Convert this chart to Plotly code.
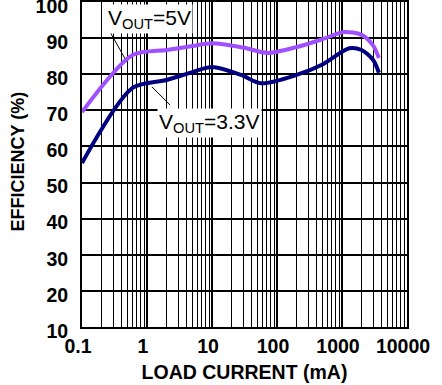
import numpy as np
import plotly.graph_objects as go

# Load current (mA) and efficiency (%) for each output voltage
current_5v = [0.1, 0.6, 2, 5, 10, 30, 72, 200, 500, 1070, 2000, 3000, 3700]
eff_5v = [69.5, 85.3, 86.7, 87.8, 88.6, 87.4, 85.9, 87.5, 89.7, 91.7, 90.9, 88.0, 84.5]

current_3v3 = [0.1, 0.6, 2, 5, 10, 28, 57, 200, 500, 1290, 2000, 3000, 3700]
eff_3v3 = [55.4, 76.2, 78.4, 80.6, 82.0, 79.8, 77.5, 79.8, 82.7, 87.2, 86.7, 84.0, 80.4]

x_ticks = [0.1, 1, 10, 100, 1000, 10000]
x_tick_labels = ["0.1", "1", "10", "100", "1000", "10000"]
y_ticks = [10, 20, 30, 40, 50, 60, 70, 80, 90, 100]

FONT = "Liberation Sans, Arial, sans-serif"

fig = go.Figure()

# leader lines from labels to curves
fig.add_trace(go.Scatter(x=[0.27, 0.49], y=[91.7, 83.4], mode="lines",
                         line=dict(color="black", width=1), hoverinfo="skip"))
fig.add_trace(go.Scatter(x=[1.19, 2.26], y=[76.5, 71.5], mode="lines",
                         line=dict(color="black", width=1), hoverinfo="skip"))

fig.add_trace(go.Scatter(x=current_5v, y=eff_5v, mode="lines",
                         line=dict(color="#a050ff", width=4, shape="spline", smoothing=0.8),
                         name="VOUT=5V"))
fig.add_trace(go.Scatter(x=current_3v3, y=eff_3v3, mode="lines",
                         line=dict(color="#000080", width=4, shape="spline", smoothing=0.8),
                         name="VOUT=3.3V"))

fig.add_annotation(x=np.log10(1.1), y=95.3, xref="x", yref="y",
                   text="V<sub>OUT</sub>=5V", showarrow=False, bgcolor="white",
                   font=dict(family=FONT, size=21, color="black"), borderpad=1)
fig.add_annotation(x=np.log10(9.3), y=66.5, xref="x", yref="y",
                   text="V<sub>OUT</sub>=3.3V", showarrow=False, bgcolor="white",
                   font=dict(family=FONT, size=21, color="black"), borderpad=1)

# vertical axis title
fig.add_annotation(x=-0.197, y=0.509, xref="paper", yref="paper",
                   text="EFFICIENCY (%)", textangle=-90, showarrow=False,
                   xanchor="center", yanchor="middle",
                   font=dict(family=FONT, size=18, weight="bold", color="black"))

fig.update_layout(
    width=442, height=385,
    margin=dict(l=82, r=35, t=2, b=58, autoexpand=False),
    paper_bgcolor="white", plot_bgcolor="white",
    showlegend=False,
    font=dict(family=FONT, color="black"),
)
fig.update_xaxes(
    type="log", range=[-1, 4], automargin=False,
    tickvals=x_ticks, ticktext=x_tick_labels, ticks="",
    tickfont=dict(family=FONT, size=19.5, weight="bold"),
    ticklabelshift=-4, ticklabelstandoff=1, ticklabeloverflow="allow",
    showgrid=True, gridcolor="black", gridwidth=1.5,
    minor=dict(dtick="D1", showgrid=True, gridcolor="black", gridwidth=1.2, ticks=""),
    showline=True, linecolor="black", linewidth=2, mirror=True,
    title=dict(text="LOAD CURRENT (mA)", font=dict(family=FONT, size=19.5, weight="bold"), standoff=9),
    zeroline=False,
)
fig.update_yaxes(
    range=[10, 100], automargin=False,
    tickvals=y_ticks, ticks="",
    tickfont=dict(family=FONT, size=19.5, weight="bold"),
    ticklabelshift=4, ticklabelstandoff=8, ticklabeloverflow="allow",
    showgrid=True, gridcolor="black", gridwidth=1.5,
    showline=True, linecolor="black", linewidth=2, mirror=True,
    zeroline=False,
)

fig.write_html("out.html")
